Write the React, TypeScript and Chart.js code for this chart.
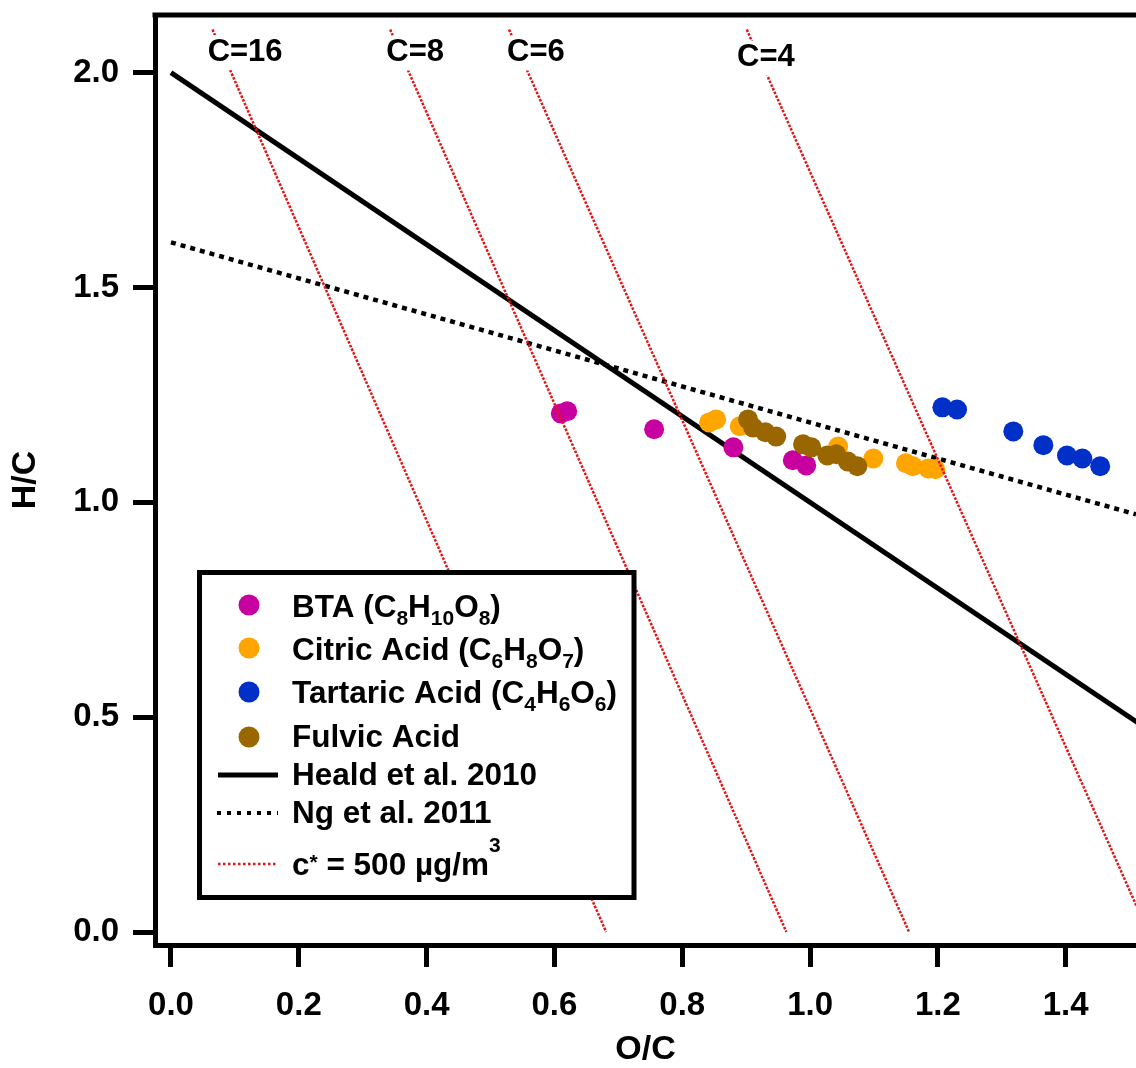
import React, { useEffect, useRef } from "react";
import { Chart, registerables } from "chart.js";

Chart.register(...registerables);

// ---------- data ----------
const X_TICKS = [0, 0.2, 0.4, 0.6, 0.8, 1.0, 1.2, 1.4];
const Y_TICKS = [0, 0.5, 1.0, 1.5, 2.0];
const X_MIN = -0.025;
const X_MAX = 1.51;
const Y_MIN = -0.03;
const Y_MAX = 2.134;

const BTA_OC = [0.61, 0.62, 0.756, 0.88, 0.973, 0.994];
const BTA_HC = [1.207, 1.212, 1.17, 1.128, 1.098, 1.086];

const CITRIC_OC = [0.842, 0.853, 0.89, 1.044, 1.099, 1.15, 1.161, 1.185, 1.196];
const CITRIC_HC = [1.186, 1.193, 1.177, 1.13, 1.102, 1.091, 1.084, 1.079, 1.077];

const TARTARIC_OC = [1.207, 1.23, 1.318, 1.365, 1.402, 1.426, 1.454];
const TARTARIC_HC = [1.221, 1.216, 1.165, 1.133, 1.109, 1.102, 1.084];

const FULVIC_OC = [0.903, 0.911, 0.93, 0.947, 0.989, 1.002, 1.027, 1.041, 1.059, 1.074];
const FULVIC_HC = [1.193, 1.174, 1.163, 1.153, 1.135, 1.128, 1.109, 1.112, 1.095, 1.084];

const HEALD_OC = [0, 1.52];
const HEALD_HC = [2.0, 0.48];

const NG_OC = [0, 1.51];
const NG_HC = [1.605, 0.972];

const ISO_LABELS = ["C=16", "C=8", "C=6", "C=4"];
const ISO_TOP_OC = [0.065, 0.343, 0.529, 0.901];
const ISO_BOTTOM_OC = [0.681, 0.963, 1.155, 1.529];
const ISO_TOP_HC = 2.1;
const ISO_BOTTOM_HC = 0.0;
const ISO_LABEL_OC = [0.116, 0.382, 0.571, 0.931];
const ISO_LABEL_HC = [2.05, 2.049, 2.049, 2.037];

const COLORS = {
  bta: "#c800a0",
  citric: "#ffa500",
  tartaric: "#0030c8",
  fulvic: "#996600",
  iso: "#e81010",
};

const FONT = "'Liberation Sans', Arial, Helvetica, sans-serif";

type Seg = { t: string; sub?: boolean; sup?: boolean };

const LEGEND_ITEMS: { kind: string; color: string; segs: Seg[] }[] = [
  {
    kind: "marker",
    color: COLORS.bta,
    segs: [{ t: "BTA (C" }, { t: "8", sub: true }, { t: "H" }, { t: "10", sub: true }, { t: "O" }, { t: "8", sub: true }, { t: ")" }],
  },
  {
    kind: "marker",
    color: COLORS.citric,
    segs: [{ t: "Citric Acid (C" }, { t: "6", sub: true }, { t: "H" }, { t: "8", sub: true }, { t: "O" }, { t: "7", sub: true }, { t: ")" }],
  },
  {
    kind: "marker",
    color: COLORS.tartaric,
    segs: [{ t: "Tartaric Acid (C" }, { t: "4", sub: true }, { t: "H" }, { t: "6", sub: true }, { t: "O" }, { t: "6", sub: true }, { t: ")" }],
  },
  { kind: "marker", color: COLORS.fulvic, segs: [{ t: "Fulvic Acid" }] },
  { kind: "solid", color: "#000", segs: [{ t: "Heald et al. 2010" }] },
  { kind: "dotted", color: "#000", segs: [{ t: "Ng et al. 2011" }] },
  { kind: "iso", color: COLORS.iso, segs: [{ t: "c" }, { t: "*", sup: true }, { t: " = 500 µg/m" }, { t: "3", sup: true }] },
];

const pts = (xs: number[], ys: number[]) => xs.map((x, i) => ({ x, y: ys[i] }));

const zeroPadding = (s: any) => {
  s.paddingTop = 0;
  s.paddingBottom = 0;
  s.paddingLeft = 0;
  s.paddingRight = 0;
};

export default function App() {
  const ref = useRef<HTMLCanvasElement | null>(null);

  useEffect(() => {
    const canvas = ref.current;
    if (!canvas) return;

    const scatter = (label: string, xs: number[], ys: number[], color: string, order: number) => ({
      type: "scatter" as const,
      label,
      data: pts(xs, ys),
      backgroundColor: color,
      borderColor: color,
      pointRadius: 10,
      pointHoverRadius: 10,
      pointBorderWidth: 0,
      showLine: false,
      order,
    });

    const isoSets = ISO_LABELS.map((lab, i) => ({
      type: "line" as const,
      label: lab,
      data: pts([ISO_TOP_OC[i], ISO_BOTTOM_OC[i]], [ISO_TOP_HC, ISO_BOTTOM_HC]),
      borderColor: COLORS.iso,
      borderWidth: 2.5,
      borderDash: [2.5, 1.5],
      pointRadius: 0,
      fill: false,
      tension: 0,
      order: 1,
    }));

    const labelPlugin = {
      id: "isoLabels",
      afterDatasetsDraw(chart: any) {
        const { ctx, chartArea, scales } = chart;
        ctx.save();
        // top frame line
        ctx.strokeStyle = "#000";
        ctx.lineWidth = 5;
        ctx.beginPath();
        ctx.moveTo(chartArea.left - 2.5, chartArea.top);
        ctx.lineTo(chartArea.right + 5, chartArea.top);
        ctx.stroke();

        ctx.font = `bold 31px ${FONT}`;
        ctx.textAlign = "center";
        ctx.textBaseline = "middle";
        ISO_LABELS.forEach((lab, i) => {
          const px = scales.x.getPixelForValue(ISO_LABEL_OC[i]);
          const py = scales.y.getPixelForValue(ISO_LABEL_HC[i]);
          const w = ctx.measureText(lab).width;
          ctx.fillStyle = "#fff";
          ctx.fillRect(px - w / 2 - 4, py - 16, w + 8, 35);
          ctx.fillStyle = "#000";
          ctx.fillText(lab, px, py + 1);
        });
        ctx.restore();
      },
    };

    const legendPlugin = {
      id: "customLegend",
      afterDraw(chart: any) {
        const ctx = chart.ctx;
        ctx.save();
        const L = 199.5, T = 572.5, R = 634, B = 897.5;
        ctx.fillStyle = "#fff";
        ctx.fillRect(L, T, R - L, B - T);
        ctx.strokeStyle = "#000";
        ctx.lineWidth = 5;
        ctx.strokeRect(L, T, R - L, B - T);

        const rowY = [605, 648, 692, 737, 775, 813, 864];
        const baseY = [617, 660, 703, 747, 785, 823, 875];
        const textX = 292;
        LEGEND_ITEMS.forEach((item, i) => {
          const y = rowY[i];
          if (item.kind === "marker") {
            ctx.fillStyle = item.color;
            ctx.beginPath();
            ctx.arc(249, y, 10.5, 0, Math.PI * 2);
            ctx.fill();
          } else if (item.kind === "solid") {
            ctx.strokeStyle = "#000";
            ctx.lineWidth = 5;
            ctx.setLineDash([]);
            ctx.beginPath();
            ctx.moveTo(218, y);
            ctx.lineTo(278, y);
            ctx.stroke();
          } else if (item.kind === "dotted") {
            ctx.strokeStyle = "#000";
            ctx.lineWidth = 4;
            ctx.setLineDash([4, 6]);
            ctx.beginPath();
            ctx.moveTo(217, y);
            ctx.lineTo(278, y);
            ctx.stroke();
            ctx.setLineDash([]);
          } else {
            ctx.strokeStyle = COLORS.iso;
            ctx.lineWidth = 2.5;
            ctx.setLineDash([2.5, 2.5]);
            ctx.beginPath();
            ctx.moveTo(218, y);
            ctx.lineTo(278, y);
            ctx.stroke();
            ctx.setLineDash([]);
          }
          // rich text
          let x = textX;
          ctx.fillStyle = "#000";
          ctx.textAlign = "left";
          ctx.textBaseline = "alphabetic";
          item.segs.forEach((s) => {
            let dy = 0;
            if (s.sub) {
              ctx.font = `bold 21px ${FONT}`;
              dy = 8;
            } else if (s.sup) {
              ctx.font = `bold 21px ${FONT}`;
              dy = s.t === "*" ? -6 : -23;
            } else {
              ctx.font = `bold 31.5px ${FONT}`;
            }
            ctx.fillText(s.t, x, baseY[i] + dy);
            x += ctx.measureText(s.t).width;
          });
        });
        ctx.restore();
      },
    };

    const chart = new Chart(canvas, {
      type: "scatter",
      data: {
        datasets: [
          ...isoSets,
          scatter("Fulvic Acid", FULVIC_OC, FULVIC_HC, COLORS.fulvic, 2),
          scatter("BTA", BTA_OC, BTA_HC, COLORS.bta, 3),
          scatter("Citric Acid", CITRIC_OC, CITRIC_HC, COLORS.citric, 4),
          scatter("Tartaric Acid", TARTARIC_OC, TARTARIC_HC, COLORS.tartaric, 4),
          {
            type: "line" as const,
            label: "Heald et al. 2010",
            data: pts(HEALD_OC, HEALD_HC),
            borderColor: "#000",
            borderWidth: 5,
            pointRadius: 0,
            fill: false,
            order: 6,
          },
          {
            type: "line" as const,
            label: "Ng et al. 2011",
            data: pts(NG_OC, NG_HC),
            borderColor: "#000",
            borderWidth: 4.5,
            borderDash: [5, 5],
            pointRadius: 0,
            fill: false,
            order: 6,
          },
        ] as any,
      },
      options: {
        responsive: false,
        maintainAspectRatio: false,
        devicePixelRatio: 1,
        animation: false,
        layout: { autoPadding: false, padding: { top: 15, left: 0, right: 0, bottom: 0 } },
        plugins: {
          legend: { display: false },
          tooltip: { enabled: false },
        },
        events: [],
        scales: {
          x: {
            type: "linear",
            min: X_MIN,
            max: X_MAX,
            afterFit: (s: any) => {
              s.height = 123;
              zeroPadding(s);
            },
            afterBuildTicks: (s: any) => {
              s.ticks = X_TICKS.map((v) => ({ value: v }));
            },
            ticks: {
              color: "#000",
              font: { family: FONT, size: 33, weight: "bold" },
              padding: 19,
              maxRotation: 0,
              autoSkip: false,
              callback: (v: any) => Number(v).toFixed(1),
            },
            grid: {
              display: true,
              drawOnChartArea: false,
              drawTicks: true,
              tickLength: 22,
              tickWidth: 5,
              tickColor: "#000",
            },
            border: { display: true, color: "#000", width: 5 },
            title: {
              display: true,
              text: "O/C",
              color: "#000",
              font: { family: FONT, size: 34, weight: "bold", lineHeight: 1.1 },
              padding: 0,
            },
          },
          y: {
            type: "linear",
            min: Y_MIN,
            max: Y_MAX,
            afterFit: (s: any) => {
              s.width = 155;
              zeroPadding(s);
            },
            afterBuildTicks: (s: any) => {
              s.ticks = Y_TICKS.map((v) => ({ value: v }));
            },
            ticks: {
              color: "#000",
              font: { family: FONT, size: 33, weight: "bold" },
              padding: 14,
              autoSkip: false,
              callback: (v: any) => Number(v).toFixed(1),
            },
            grid: {
              display: true,
              drawOnChartArea: false,
              drawTicks: true,
              tickLength: 22,
              tickWidth: 5,
              tickColor: "#000",
            },
            border: { display: true, color: "#000", width: 5 },
            title: {
              display: true,
              text: "H/C",
              color: "#000",
              font: { family: FONT, size: 34, weight: "bold" },
              padding: { top: 5, bottom: 0 },
            },
          },
        },
      } as any,
      plugins: [labelPlugin, legendPlugin],
    });

    return () => {
      chart.destroy();
    };
  }, []);

  return (
    <div style={{ position: "absolute", left: 0, top: 0, width: 1136, height: 1068, background: "#fff" }}>
      <canvas ref={ref} width={1136} height={1068} style={{ display: "block", width: 1136, height: 1068 }} />
    </div>
  );
}
